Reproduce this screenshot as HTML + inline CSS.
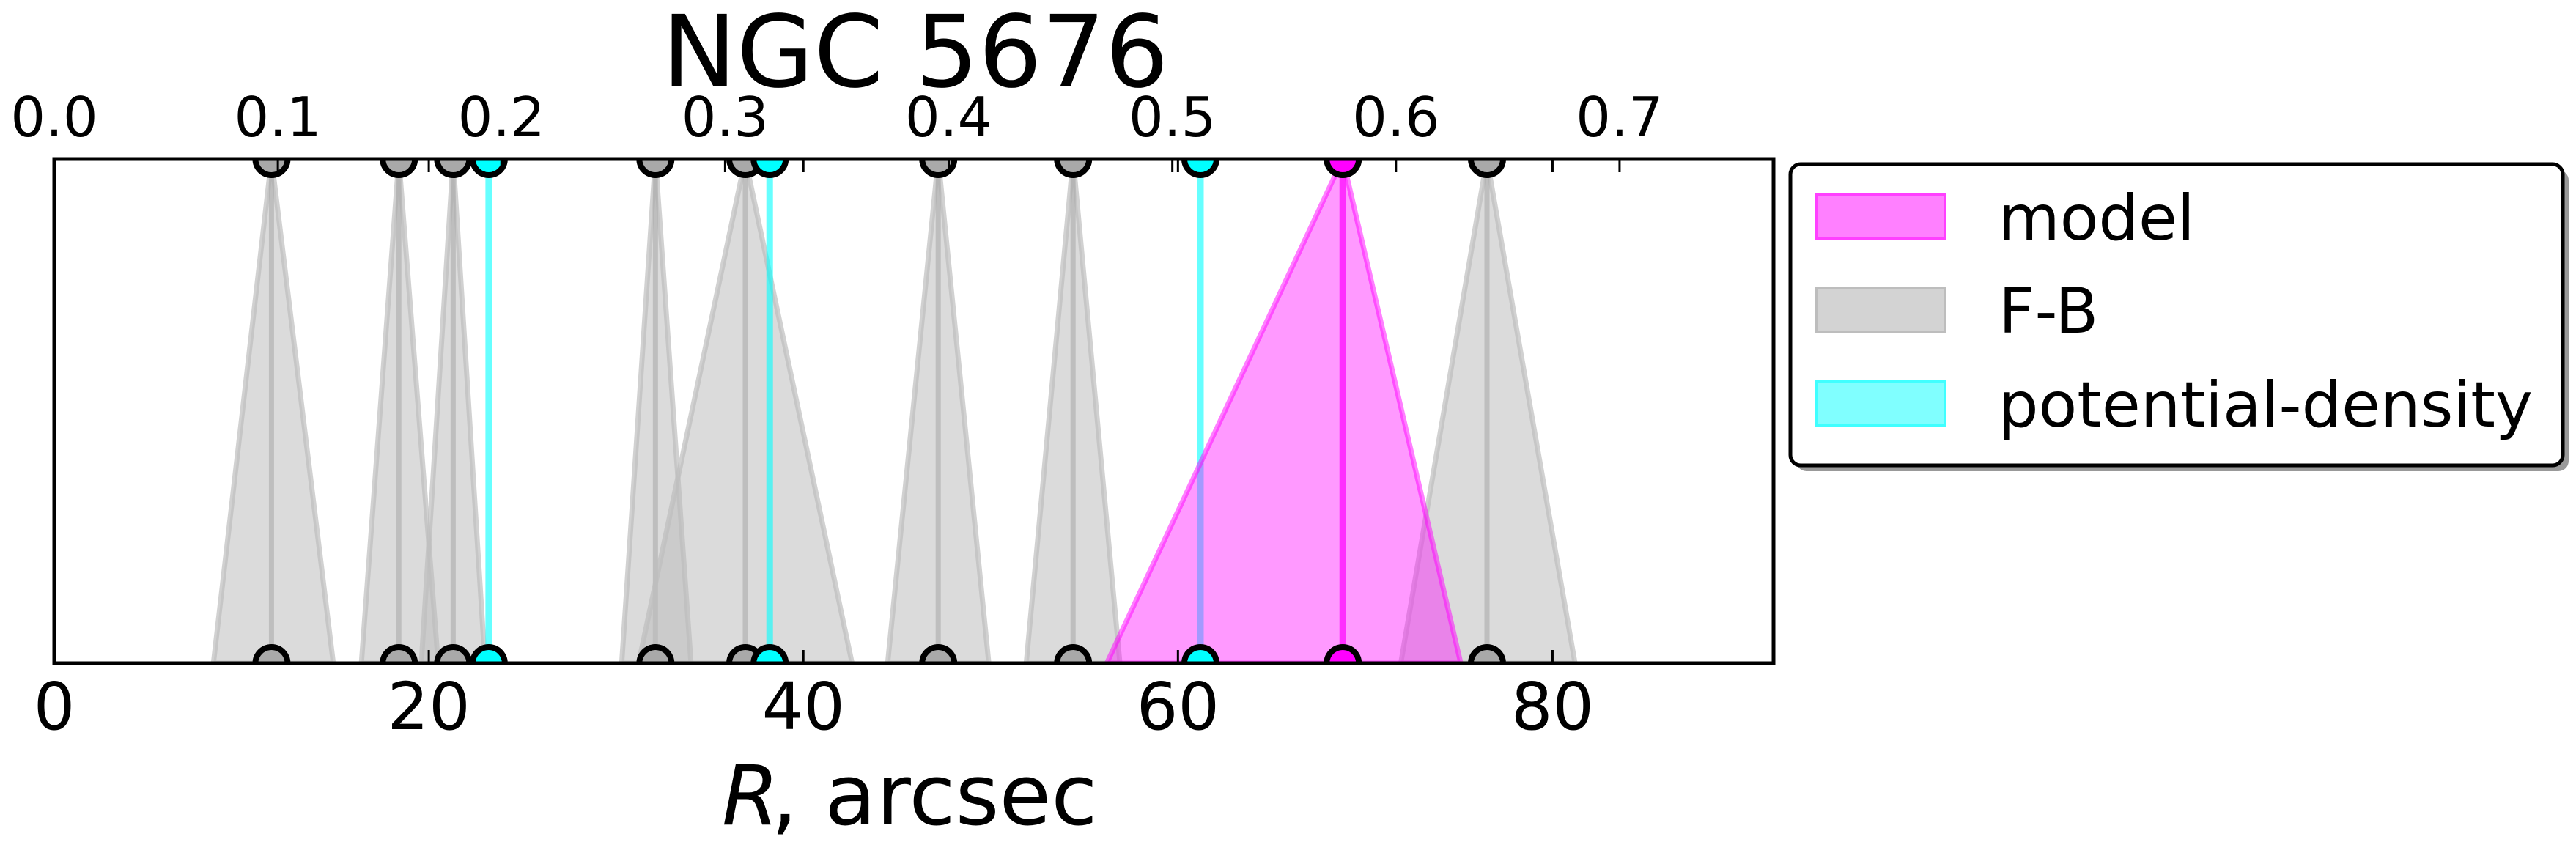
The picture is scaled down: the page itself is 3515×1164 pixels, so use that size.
<!DOCTYPE html>
<html><head><meta charset="utf-8">
<style>
html,body{margin:0;padding:0;background:#fff;}
svg{display:block;}
text{font-family:"DejaVu Sans","Liberation Sans",sans-serif;}
</style></head>
<body>
<svg id="chart" width="3515" height="1164" viewBox="0 0 3515 1164" xmlns="http://www.w3.org/2000/svg">
  <text x="1249" y="118" font-size="136" text-anchor="middle">NGC 5676</text>
  <defs><clipPath id="axclip"><rect x="74" y="217" width="2346" height="688"/></clipPath></defs>
  <g id="plot" clip-path="url(#axclip)"></g>
  <g id="axes"></g>
  <g>
    <text x="985" y="1125" font-size="112" font-style="italic" font-family="'Liberation Serif','DejaVu Serif',serif">R</text>
    <text x="1052" y="1125" font-size="115">, arcsec</text>
  </g>
  <g>
    <rect x="2451" y="232" width="1054" height="411" rx="14" fill="#999"/>
    <rect x="2443" y="224" width="1054" height="411" rx="14" fill="#fff" stroke="#000" stroke-width="5"/>
    <g>
      <rect x="2479" y="266" width="175" height="60" fill="#ff80ff" stroke="#ff40ff" stroke-width="4"/>
      <text x="2727" y="327" font-size="86">model</text>
    </g>
    <g>
      <rect x="2479" y="393" width="175" height="60" fill="#d3d3d3" stroke="#bdbdbd" stroke-width="4"/>
      <text x="2727" y="454" font-size="86">F-B</text>
    </g>
    <g>
      <rect x="2479" y="521" width="175" height="60" fill="#80ffff" stroke="#40ffff" stroke-width="4"/>
      <text x="2727" y="582" font-size="86">potential-density</text>
    </g>
  </g>
</svg>
<script>
// data (arcsec)
const fbCenters = [11.6, 18.4, 21.3, 32.1, 36.9, 47.2, 54.4, 76.5];
const fbLow     = [8.5, 16.4, 19.6, 30.3, 31.2, 44.5, 51.9, 71.9];
const fbHigh    = [14.9, 20.5, 23.0, 34.0, 42.6, 49.9, 56.9, 81.2];
const modelCenter = [68.8];
const modelLow  = [56.2];
const modelHigh = [75.1];
const pdCenters = [23.2, 38.2, 61.2];
const xTicks = [0, 20, 40, 60, 80];
const topTicks = [0.0, 0.1, 0.2, 0.3, 0.4, 0.5, 0.6, 0.7];
const topScale = 119.4; // arcsec per top-axis unit

const X0 = 74, X1 = 2420, Y0 = 217, Y1 = 905, XMAX = 91.8;
const sx = v => X0 + (v / XMAX) * (X1 - X0);
const NS = 'http://www.w3.org/2000/svg';
function mk(tag, attrs, parent) {
  const e = document.createElementNS(NS, tag);
  for (const k in attrs) e.setAttribute(k, attrs[k]);
  parent.appendChild(e);
  return e;
}
const plot = document.getElementById('plot');
const axes = document.getElementById('axes');

fbCenters.forEach((c, i) => {
  const p = mk('polygon', {points: `${sx(fbLow[i])},${Y1} ${sx(c)},${Y0} ${sx(fbHigh[i])},${Y1}`, fill: 'rgba(190,190,190,0.55)', stroke: 'rgba(190,190,190,0.7)', 'stroke-width': 7}, plot);
  
  
  const l = mk('line', {x1: sx(c), x2: sx(c), y1: Y0, y2: Y1, stroke: 'rgba(170,170,170,0.6)', 'stroke-width': 7}, plot);
  
  
});
pdCenters.forEach(c => {
  const l = mk('line', {x1: sx(c), x2: sx(c), y1: Y0, y2: Y1, stroke: 'rgba(0,255,255,0.6)', 'stroke-width': 9}, plot);
  
  
});
modelCenter.forEach((c, i) => {
  const p = mk('polygon', {points: `${sx(modelLow[i])},${Y1} ${sx(c)},${Y0} ${sx(modelHigh[i])},${Y1}`, fill: 'rgba(255,0,255,0.4)', stroke: 'rgba(255,0,255,0.5)', 'stroke-width': 7}, plot);
  
  
  const l = mk('line', {x1: sx(c), x2: sx(c), y1: Y0, y2: Y1, stroke: 'rgba(255,0,255,0.7)', 'stroke-width': 9}, plot);
  
  
});
function markers(list, fill, name) {
  list.forEach(c => {
    [Y0, Y1].forEach(y => {
      const m = mk('circle', {cx: sx(c), cy: y, r: 22, fill: fill, stroke: '#000', 'stroke-width': 8}, plot);
      
      
    });
  });
}
markers(fbCenters, '#a9a9a9', 'fb-marker');
markers(pdCenters, '#00ffff', 'pd-marker');
markers(modelCenter, '#ff00ff', 'model-marker');

const frame = mk('rect', {x: X0, y: Y0, width: X1 - X0, height: Y1 - Y0, fill: 'none', stroke: '#000', 'stroke-width': 5}, axes);


xTicks.forEach(t => {
  const x = sx(t);
  const tk = mk('line', {x1: x, x2: x, y1: Y1, y2: Y1 - 18, stroke: '#000', 'stroke-width': 3}, axes);
  
  
  const tk2 = mk('line', {x1: x, x2: x, y1: Y0, y2: Y0 + 18, stroke: '#000', 'stroke-width': 3}, axes);
  
  
  const lb = mk('text', {x: x, y: 995, 'font-size': 89, 'text-anchor': 'middle'}, axes);
  lb.textContent = String(t);
  
  
});
topTicks.forEach(t => {
  const x = sx(t * topScale);
  const tk = mk('line', {x1: x, x2: x, y1: Y0, y2: Y0 + 18, stroke: '#000', 'stroke-width': 3}, axes);
  
  
  const lb = mk('text', {x: x, y: 186, 'font-size': 75, 'text-anchor': 'middle'}, axes);
  lb.textContent = t.toFixed(1);
  
  
});
</script>
</body></html>
